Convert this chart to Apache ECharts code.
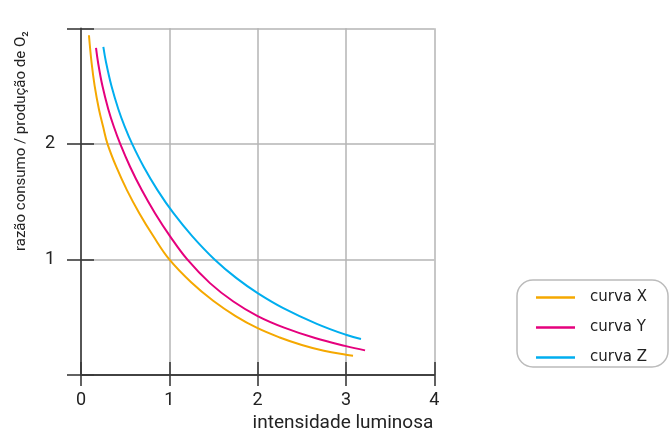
<!DOCTYPE html>
<html>
<head>
<meta charset="utf-8">
<script src="https://cdn.jsdelivr.net/npm/echarts@6/dist/echarts.min.js"></script>
<style>
html,body{margin:0;padding:0;background:#fff;}
#chart{width:671px;height:433px;}
</style>
</head>
<body>
<div id="chart"></div>
<script>
// ---- data ----
const xTicks = [0, 1, 2, 3, 4];
const yTickLabels = ['', '1', '2', ''];
const seriesNames = ['curva X', 'curva Y', 'curva Z'];
const curvaX = [[0.09,2.94],[0.12,2.70],[0.155,2.50],[0.203,2.30],[0.25,2.15],[0.30,2.0],[0.40,1.80],[0.52,1.60],[0.66,1.40],[0.82,1.20],[1.0,1.0],[1.25,0.80],[1.5,0.64],[1.75,0.51],[2.0,0.405],[2.25,0.325],[2.5,0.26],[2.75,0.21],[3.0,0.175],[3.08,0.167]];
const curvaY = [[0.17,2.83],[0.194,2.70],[0.243,2.50],[0.309,2.30],[0.371,2.15],[0.444,2.0],[0.557,1.80],[0.688,1.60],[0.838,1.40],[1.009,1.20],[1.203,1.0],[1.46,0.795],[1.725,0.636],[2.0,0.51],[2.3,0.41],[2.65,0.32],[3.0,0.25],[3.216,0.213]];
const curvaZ = [[0.253,2.84],[0.285,2.70],[0.345,2.50],[0.423,2.30],[0.495,2.15],[0.579,2.0],[0.711,1.80],[0.866,1.60],[1.047,1.40],[1.261,1.20],[1.512,1.0],[1.76,0.838],[2.0,0.709],[2.29,0.579],[2.67,0.443],[3.0,0.348],[3.17,0.311]];
const colors = ['#f5a800', '#e5007d', '#00aeef'];
const xName = 'intensidade luminosa';
const yName = 'razão consumo / produção de O₂';

const axisDark = '#3a3a3a';
const gridGray = '#b4b4b4';
const chart = echarts.init(document.getElementById('chart'), null, {renderer: 'canvas'});
chart.setOption({
  animation: false,
  grid: {left: 81, right: 236.7, top: 28.3, bottom: 57.7},
  xAxis: [{
    type: 'value', position: 'bottom', min: xTicks[0], max: xTicks[xTicks.length-1], interval: 1,
    name: xName, nameLocation: 'end', nameGap: -1,
    nameTextStyle: {fontFamily: 'Roboto', fontSize: 19, color: '#222', align: 'right', verticalAlign: 'top', padding: [39,0,0,0]},
    axisLine: {show: true, lineStyle: {color: axisDark, width: 1.6}},
    axisTick: {show: true, inside: false, length: 11, lineStyle: {color: axisDark, width: 1.6}},
    axisLabel: {fontFamily: 'Roboto', fontSize: 18, color: '#222', margin: 16},
    splitLine: {show: true, lineStyle: {color: gridGray, width: 1.5}}
  }, {
    type: 'value', position: 'top', min: xTicks[0], max: xTicks[xTicks.length-1], interval: 1,
    axisLine: {show: true, lineStyle: {color: axisDark, width: 1.6}},
    axisTick: {show: true, inside: false, length: 13, lineStyle: {color: axisDark, width: 1.6}},
    axisLabel: {show: false},
    splitLine: {show: false}
  }],
  yAxis: [{
    type: 'value', position: 'left', min: 0, max: 3, interval: 1,
    name: yName, nameLocation: 'middle', nameGap: 52,
    nameTextStyle: {fontFamily: 'Roboto', fontSize: 15, color: '#222', padding: [0,0,0,121]},
    axisLine: {show: true, lineStyle: {color: axisDark, width: 1.6}},
    axisTick: {show: true, inside: false, length: 14, lineStyle: {color: axisDark, width: 1.6}},
    axisLabel: {fontFamily: 'Roboto', fontSize: 18, color: '#222', margin: 26,
      formatter: function (v) { return yTickLabels[v] || ''; }},
    splitLine: {show: true, lineStyle: {color: gridGray, width: 1.5}}
  }, {
    type: 'value', position: 'right', min: 0, max: 3, interval: 1,
    axisLine: {show: false},
    axisTick: {show: true, inside: false, length: 13, lineStyle: {color: axisDark, width: 1.6}},
    axisLabel: {show: false},
    splitLine: {show: false}
  }],
  legend: {
    orient: 'vertical', left: 517, top: 280,
    padding: [10, 21, 2, 19],
    icon: 'rect',
    itemWidth: 39, itemHeight: 2.5, itemGap: 15,
    borderColor: '#bbbbbb', borderWidth: 1.5, borderRadius: 16,
    textStyle: {fontFamily: 'DejaVu Sans', fontSize: 15, lineHeight: 15, color: '#222', padding: [0,0,0,10]},
    data: seriesNames
  },
  series: [
    {name: seriesNames[0], type: 'line', data: curvaX, smooth: 0.4, showSymbol: false, symbol: 'none', color: colors[0], lineStyle: {width: 2, color: colors[0]}},
    {name: seriesNames[1], type: 'line', data: curvaY, smooth: 0.4, showSymbol: false, symbol: 'none', color: colors[1], lineStyle: {width: 2, color: colors[1]}},
    {name: seriesNames[2], type: 'line', data: curvaZ, smooth: 0.4, showSymbol: false, symbol: 'none', color: colors[2], lineStyle: {width: 2, color: colors[2]}}
  ]
});
</script>
</body>
</html>
